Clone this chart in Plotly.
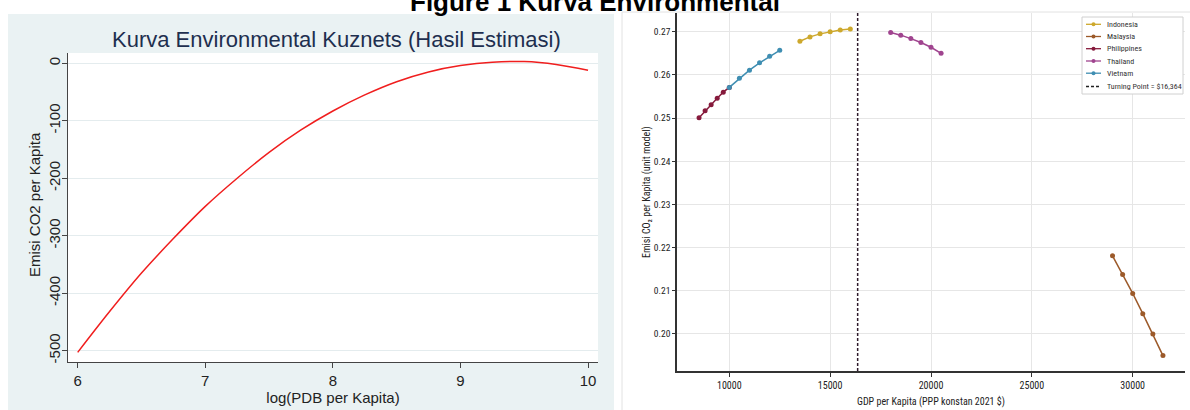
import plotly.graph_objects as go

W, H = 1190, 410

# ---------------- Data ----------------
# Left panel: estimated EKC curve
log_gdp = [6.0, 6.25, 6.5, 6.75, 7.0, 7.25, 7.5, 7.75, 8.0, 8.25, 8.5, 8.75, 9.0, 9.25, 9.5, 9.75, 10.0]
co2_est = [-503, -432, -365, -305, -249, -200, -155, -116, -83, -55, -32, -15, -4, 2, 3, -2, -12]
left_yticks = [-500, -400, -300, -200, -100, 0]
left_yticktext = ["-500", "-400", "-300", "-200", "-100", "0"]
left_xticks = [6, 7, 8, 9, 10]

# Right panel: country series
countries = ["Indonesia", "Malaysia", "Philippines", "Thailand", "Vietnam"]
colors = ["#CDA82C", "#9C5A2A", "#861A3C", "#A0448F", "#3F8EB2"]
gdp_indonesia = [13500, 14000, 14500, 15000, 15500, 16000]
co2_indonesia = [0.2678, 0.2688, 0.2695, 0.2700, 0.2704, 0.2706]
gdp_malaysia = [29000, 29500, 30000, 30500, 31000, 31500]
co2_malaysia = [0.2181, 0.2138, 0.2094, 0.2047, 0.2000, 0.1950]
gdp_philippines = [8500, 8800, 9100, 9400, 9700, 10000]
co2_philippines = [0.2501, 0.2517, 0.2531, 0.2546, 0.2560, 0.2571]
gdp_thailand = [18000, 18500, 19000, 19500, 20000, 20500]
co2_thailand = [0.2698, 0.2692, 0.2684, 0.2675, 0.2664, 0.2650]
gdp_vietnam = [10000, 10500, 11000, 11500, 12000, 12500]
co2_vietnam = [0.2571, 0.2592, 0.2611, 0.2628, 0.2643, 0.2657]
turning_point = 16364
right_xticks = [10000, 15000, 20000, 25000, 30000]
right_yticks = [0.20, 0.21, 0.22, 0.23, 0.24, 0.25, 0.26, 0.27]

series_x = [gdp_indonesia, gdp_malaysia, gdp_philippines, gdp_thailand, gdp_vietnam]
series_y = [co2_indonesia, co2_malaysia, co2_philippines, co2_thailand, co2_vietnam]


def px(x):
    return x / W


def py(y):
    return 1 - y / H


LEFT_FONT = "Liberation Sans, Arial, sans-serif"
RIGHT_FONT = "Liberation Sans Narrow, Arial Narrow, Roboto Condensed, Liberation Sans, sans-serif"

fig = go.Figure()

# Left curve
fig.add_trace(go.Scatter(x=log_gdp, y=co2_est, mode="lines", line=dict(color="#F01E1E", width=1.5, shape="spline"),
                         xaxis="x", yaxis="y", showlegend=False, hoverinfo="skip"))

# Right series
for name, c, xs, ys in zip(countries, colors, series_x, series_y):
    fig.add_trace(go.Scatter(x=xs, y=ys, mode="lines+markers", name=name,
                             line=dict(color=c, width=1.5), marker=dict(color=c, size=5),
                             xaxis="x2", yaxis="y2", showlegend=False))

shapes = []
# Left panel background (Stata-like)
shapes.append(dict(type="rect", xref="paper", yref="paper", x0=px(8), x1=px(614), y0=py(415), y1=py(14),
                   fillcolor="#EAF2F3", line=dict(width=0), layer="below"))
shapes.append(dict(type="rect", xref="paper", yref="paper", x0=px(68), x1=px(598), y0=py(362), y1=py(53),
                   fillcolor="white", line=dict(width=0), layer="below"))
# Right panel frame
shapes.append(dict(type="rect", xref="paper", yref="paper", x0=px(622), x1=px(1200), y0=py(420), y1=py(12),
                   fillcolor="rgba(0,0,0,0)", line=dict(color="#E2E2E2", width=1), layer="below"))
# Turning point line
shapes.append(dict(type="line", xref="x2", yref="y2 domain", x0=turning_point, x1=turning_point, y0=0, y1=1,
                   line=dict(color="#2E1A2A", width=1.5, dash="3px,2px"), layer="above"))

# Custom legend (compact, matplotlib-like)
lx0, lx1, ly0, ly1 = 1082, 1183, 17, 94
shapes.append(dict(type="rect", xref="paper", yref="paper", x0=px(lx0), x1=px(lx1), y0=py(ly1), y1=py(ly0),
                   fillcolor="white", line=dict(color="#D0D0D0", width=1), layer="above"))
annotations = []
leg_names = countries + ["Turning Point = $16,364"]
leg_colors = colors + ["#222222"]
item_y = [24.3, 36.5, 48.7, 61.0, 73.2, 86.5]
for i, (nm, c) in enumerate(zip(leg_names, leg_colors)):
    yy = item_y[i]
    if i < len(countries):
        shapes.append(dict(type="line", xref="paper", yref="paper", x0=px(1086), x1=px(1101), y0=py(yy), y1=py(yy),
                           line=dict(color=c, width=1.3), layer="above"))
        shapes.append(dict(type="circle", xref="paper", yref="paper", x0=px(1091.5), x1=px(1095.5),
                           y0=py(yy + 2), y1=py(yy - 2), fillcolor=c, line=dict(color=c, width=0), layer="above"))
    else:
        shapes.append(dict(type="line", xref="paper", yref="paper", x0=px(1086), x1=px(1101), y0=py(yy), y1=py(yy),
                           line=dict(color=c, width=1.3, dash="3px,2px"), layer="above"))
    annotations.append(dict(text=nm, xref="paper", yref="paper", x=px(1105), y=py(yy), xanchor="left",
                            yanchor="middle", showarrow=False, font=dict(family=RIGHT_FONT, size=8, color="#333333")))

# Titles
annotations.append(dict(text="<b>Figure 1 Kurva Environmental</b>", xref="paper", yref="paper", x=px(595), y=py(1.5),
                        xanchor="center", yanchor="middle", showarrow=False,
                        font=dict(family="Liberation Sans, Arial, sans-serif", size=26, color="#000000")))
annotations.append(dict(text="Kurva Environmental Kuznets (Hasil Estimasi)", xref="paper", yref="paper",
                        x=px(336), y=py(40), xanchor="center", yanchor="middle", showarrow=False,
                        font=dict(family=LEFT_FONT, size=22, color="#1E2F4F")))
# Y axis titles
annotations.append(dict(text="Emisi CO2 per Kapita", xref="paper", yref="paper", x=px(34), y=py(205),
                        xanchor="center", yanchor="middle", textangle=-90, showarrow=False,
                        font=dict(family=LEFT_FONT, size=15, color="#222222")))
annotations.append(dict(text="Emisi CO₂ per Kapita (unit model)", xref="paper", yref="paper", x=px(647), y=py(192),
                        xanchor="center", yanchor="middle", textangle=-90, showarrow=False,
                        font=dict(family=RIGHT_FONT, size=10, color="#222222")))

fig.update_layout(
    width=W, height=H, margin=dict(l=0, r=0, t=0, b=0),
    paper_bgcolor="white", plot_bgcolor="rgba(0,0,0,0)",
    showlegend=False, shapes=shapes, annotations=annotations,
    xaxis=dict(domain=[px(68), px(598)], range=[5.924, 10.078], anchor="y",
               tickvals=left_xticks, ticks="outside", ticklen=5, tickcolor="#444444",
               showline=True, linecolor="#444444", linewidth=1, showgrid=False, zeroline=False,
               tickfont=dict(family=LEFT_FONT, size=15, color="#222222"),
               title=dict(text="log(PDB per Kapita)", font=dict(family=LEFT_FONT, size=15, color="#222222"), standoff=0)),
    yaxis=dict(domain=[py(362), py(53)], range=[-519.7, 17.9], anchor="x",
               tickvals=left_yticks, ticktext=left_yticktext, tickangle=-90, ticks="outside", ticklen=5,
               tickcolor="#444444", ticklabelstandoff=-4,
               showline=True, linecolor="#444444", linewidth=1, showgrid=True, gridcolor="#E4ECEE", gridwidth=1,
               zeroline=False,
               tickfont=dict(family=LEFT_FONT, size=15, color="#222222")),
    xaxis2=dict(domain=[px(677), px(1185)], range=[7407, 32593], anchor="y2",
                tickvals=right_xticks, tickformat="d", ticks="outside", ticklen=4, tickcolor="#333333",
                showline=True, linecolor="#333333", linewidth=1.5, showgrid=True, gridcolor="#E6E6E6", zeroline=False,
                tickfont=dict(family=RIGHT_FONT, size=10, color="#222222"),
                title=dict(text="GDP per Kapita (PPP konstan 2021 $)", font=dict(family=RIGHT_FONT, size=10, color="#222222"), standoff=8)),
    yaxis2=dict(domain=[py(371), py(13)], range=[0.19143, 0.27433], anchor="x2",
                tickvals=right_yticks, tickformat=".2f", ticks="outside", ticklen=3, tickcolor="#333333",
                showline=True, linecolor="#333333", linewidth=1.5, showgrid=True, gridcolor="#E6E6E6", zeroline=False,
                tickfont=dict(family=RIGHT_FONT, size=9.5, color="#222222")),
)

fig.write_html("out.html", config={"displayModeBar": False},
               post_script="document.body.style.margin='0';document.body.style.overflow='hidden';")
